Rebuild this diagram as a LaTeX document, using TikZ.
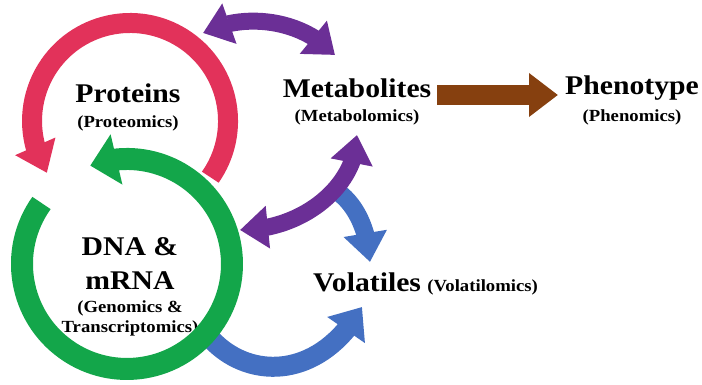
\documentclass[tikz,border=0pt]{standalone}
\usepackage{fontspec}
\setmainfont{Liberation Serif}[FakeStretch=1.1]
\usetikzlibrary{arrows.meta,bending}
\definecolor{cred}{HTML}{E2325A}
\definecolor{cgreen}{HTML}{13A64A}
\definecolor{cpurple}{HTML}{6B2F96}
\definecolor{cblue}{HTML}{4470C2}
\definecolor{cbrown}{HTML}{86400F}
\begin{document}
\begin{tikzpicture}[x=1pt,y=1pt,
  big/.style={font=\fontsize{27}{30}\selectfont\bfseries, inner sep=0pt},
  small/.style={font=\fontsize{17}{20}\selectfont\bfseries, inner sep=0pt},
  band/.style={line cap=butt},
  head/.style={-{Triangle[length=29pt,width=42pt]}},
  dhead/.style={{Triangle[length=28pt,width=41pt]}-{Triangle[length=28pt,width=41pt]}}
]
\useasboundingbox (0,0) rectangle (702,385);
% text nodes
\node[big]   (prot)  at (128,292) {Proteins};
\node[small] (protx) at (128,262) {(Proteomics)};
\node[big]   (meta)  at (357,297) {Metabolites};
\node[small] (metax) at (357,268) {(Metabolomics)};
\node[big]   (phen)  at (632,297) {Phenotype};
\node[small] (phenx) at (632,268) {(Phenomics)};
\node[big]   (dna)   at (130,138) {DNA \&};
\node[big]   (mrna)  at (130,104) {mRNA};
\node[small] (gen)   at (130,77)  {(Genomics \&};
\node[small] (trans) at (130,57)  {Transcriptomics)};
\node[big, anchor=west] (vol) at (313,103) {Volatiles};
\node[small, anchor=base west] (volx) at ([xshift=6pt]vol.base east) {(Volatilomics)};
% coordinates for arrow ends
\coordinate (b2s) at (212,45);
\coordinate (b2e) at (362,78);
\coordinate (rs) at (210.3,207.8);
\coordinate (gs) at (41.5,182);
\coordinate (b1s) at (338,193);
\coordinate (b1e) at (370,123);
\coordinate (pbl) at (240,155);
\coordinate (pbt) at (357,250);
\coordinate (ptl) at (203,352);
\coordinate (ptr) at (335,330);
\coordinate (brs) at (437,290);
\coordinate (bre) at (558,290);
% blue lower arrow (under green)
\draw[band, cblue, line width=20pt, -{Triangle[length=28pt,width=44pt]}]
  (b2s) .. controls (250,5) and (320,5) .. (b2e);
% red arc
\draw[band, cred, line width=20pt, -{Triangle[length=29pt,width=42pt]}]
  (rs) arc[start angle=-35, end angle=212, radius=98];
% green arc
\draw[band, cgreen, line width=22pt, -{Triangle[length=27pt,width=50pt]}]
  (gs) arc[start angle=144.5, end angle=470.5, radius=105];
% blue upper arrow
\draw[band, cblue, line width=18pt, head]
  (b1s) .. controls (356,180) and (368,155) .. (b1e);
% purple lower double arrow
\draw[band, cpurple, line width=17pt, dhead]
  (pbl) .. controls (304,155) and (357,200) .. (pbt);
% purple upper double arrow
\draw[band, cpurple, line width=17pt, dhead]
  (ptl) .. controls (240,372) and (300,368) .. (ptr);
% brown arrow
\draw[band, cbrown, line width=20pt, head] (brs) -- (bre);
\end{tikzpicture}
\end{document}
